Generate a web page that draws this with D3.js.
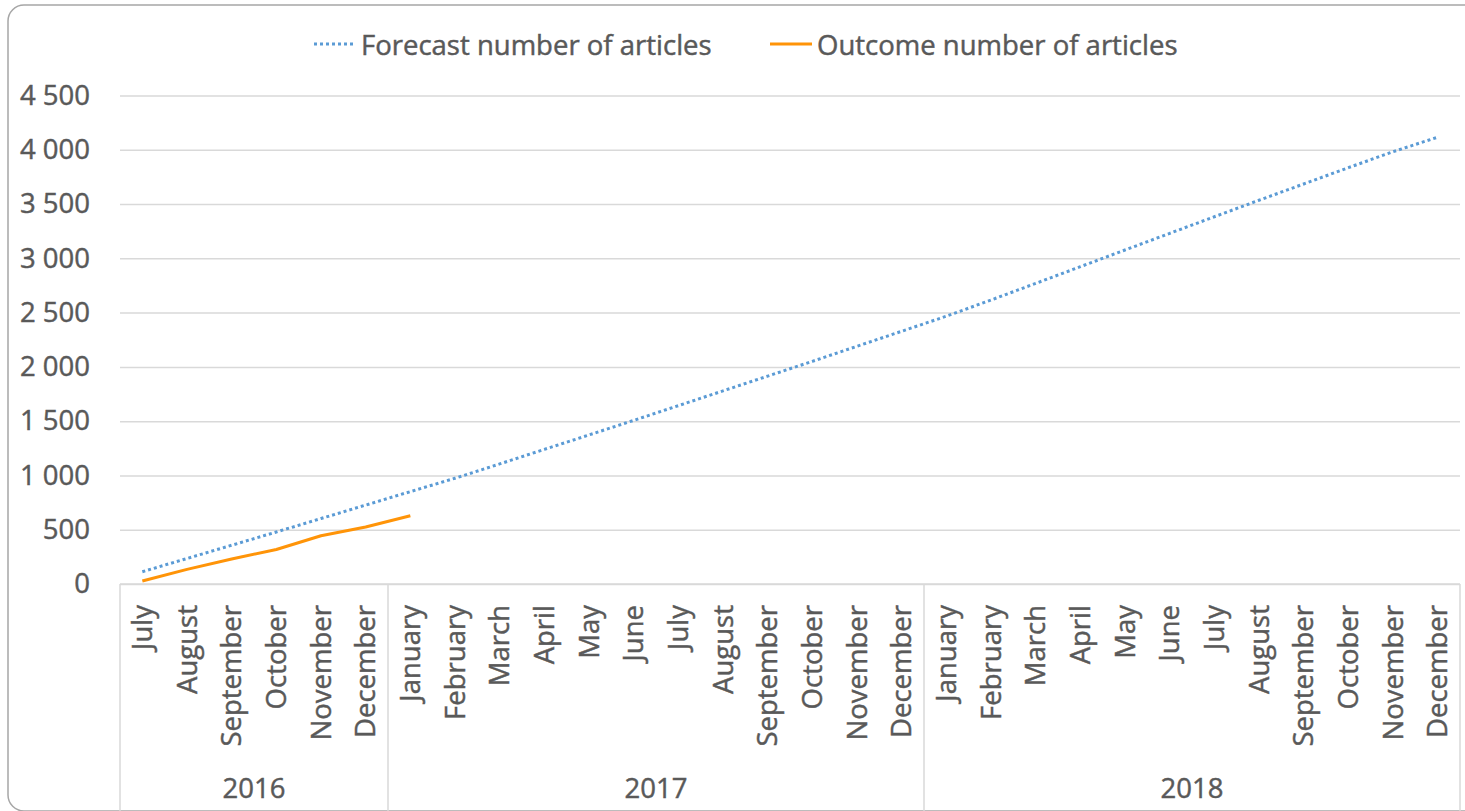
<!DOCTYPE html>
<html>
<head>
<meta charset="utf-8">
<script src="https://cdn.jsdelivr.net/npm/d3@7"></script>
<style>
  body { margin: 0; background: #fff; }
  svg { display: block; font-family: "Open Sans", sans-serif; }
  svg text { stroke: #595959; stroke-width: 0.45px; }
</style>
</head>
<body>
<svg id="chart" width="1465" height="811"></svg>
<script>
// data
const months = ['July', 'August', 'September', 'October', 'November', 'December',
  'January', 'February', 'March', 'April', 'May', 'June', 'July', 'August', 'September',
  'October', 'November', 'December',
  'January', 'February', 'March', 'April', 'May', 'June', 'July', 'August', 'September',
  'October', 'November', 'December'];
const years = ['2016', '2017', '2018'];
const monthsPerYear = [6, 12, 12];
const forecast = [113, 235, 357, 479, 603, 727, 851, 974, 1106, 1240, 1373, 1507,
  1643, 1779, 1915, 2051, 2190, 2328, 2467, 2616, 2769, 2923, 3077, 3230, 3383,
  3535, 3685, 3835, 3982, 4116];
const outcome = [28, 135, 230, 318, 445, 525, 629];
const yTicks = [0, 500, 1000, 1500, 2000, 2500, 3000, 3500, 4000, 4500];
const seriesNames = ['Forecast number of articles', 'Outcome number of articles'];

const textColor = '#595959';
const gridColor = '#d9d9d9';
const blue = '#5b9bd5';
const orange = '#ff9408';

const svg = d3.select('#chart');
const plotL = 120, plotR = 1460, plotT = 95.5, plotB = 584;

// chart frame
svg.append('rect')
  .attr('x', 8).attr('y', 5)
  .attr('width', 1480).attr('height', 806)
  .attr('rx', 16).attr('ry', 16)
  .style('fill', 'none')
  .style('stroke', '#a6a6a6')
  .style('stroke-width', 1.5);

const x = d3.scaleBand().domain(d3.range(months.length)).range([plotL, plotR]);
const y = d3.scaleLinear().domain([0, 4500]).range([plotB, plotT]);
const cx = (i) => x(i) + x.bandwidth() / 2;

const fmt = d3.formatLocale({ thousands: ' ', grouping: [3], decimal: '.', currency: ['', ''] }).format(',');

// y axis with gridlines
const yAxis = svg.append('g')
  .attr('transform', `translate(${plotL},0)`)
  .call(d3.axisLeft(y).tickValues(yTicks).tickFormat(fmt).tickSize(-(plotR - plotL)).tickPadding(30));
yAxis.select('.domain').remove();
yAxis.selectAll('.tick line').style('stroke', gridColor).style('stroke-width', 1.5);
yAxis.selectAll('.tick text')
  .style('fill', textColor)
  .style('font-size', '27.5px')
  .style('font-family', '"Open Sans", sans-serif');

// category axis (months + years)
const xg = svg.append('g');
xg.append('line')
  .attr('x1', plotL).attr('x2', plotR)
  .attr('y1', plotB).attr('y2', plotB)
  .style('stroke', gridColor).style('stroke-width', 1.5);

xg.selectAll('.month')
  .data(months)
  .join('text')
  .attr('class', 'month')
  .attr('transform', (d, i) => `translate(${cx(i)},${plotB + 21}) rotate(-90)`)
  .attr('dy', '0.35em')
  .attr('text-anchor', 'end')
  .style('fill', textColor)
  .style('font-size', '27.5px')
  .text((d) => d);

// year groups
const starts = [0];
monthsPerYear.forEach((n, k) => starts.push(starts[k] + n));
xg.selectAll('.sep')
  .data(starts)
  .join('line')
  .attr('class', 'sep')
  .attr('x1', (s) => (s < months.length ? x(s) : plotR))
  .attr('x2', (s) => (s < months.length ? x(s) : plotR))
  .attr('y1', plotB).attr('y2', 811)
  .style('stroke', gridColor).style('stroke-width', 1.5);

xg.selectAll('.year')
  .data(years)
  .join('text')
  .attr('class', 'year')
  .attr('x', (d, k) => {
    const a = x(starts[k]);
    const b = starts[k + 1] < months.length ? x(starts[k + 1]) : plotR;
    return (a + b) / 2;
  })
  .attr('y', 798)
  .attr('text-anchor', 'middle')
  .style('fill', textColor)
  .style('font-size', '27.5px')
  .text((d) => d);

// lines
const line = d3.line().x((d, i) => cx(i)).y((d) => y(d));

svg.append('path')
  .datum(forecast)
  .attr('d', line)
  .style('fill', 'none')
  .style('stroke', blue)
  .style('stroke-width', 3)
  .style('stroke-dasharray', '3 3');

svg.append('path')
  .datum(outcome)
  .attr('d', line)
  .style('fill', 'none')
  .style('stroke', orange)
  .style('stroke-width', 3)
  .style('stroke-linejoin', 'round');

// legend
const legend = [
  { name: seriesNames[0], x: 314, color: blue, dash: '3 3' },
  { name: seriesNames[1], x: 770, color: orange, dash: null },
];
const lg = svg.append('g').selectAll('g').data(legend).join('g');
lg.append('line')
  .attr('x1', (d) => d.x).attr('x2', (d) => d.x + 42)
  .attr('y1', 44).attr('y2', 44)
  .style('stroke', (d) => d.color)
  .style('stroke-width', 3)
  .style('stroke-dasharray', (d) => d.dash);
lg.append('text')
  .attr('x', (d) => d.x + 47)
  .attr('y', 55)
  .style('fill', textColor)
  .style('font-size', '27.5px')
  .text((d) => d.name);
</script>
</body>
</html>
